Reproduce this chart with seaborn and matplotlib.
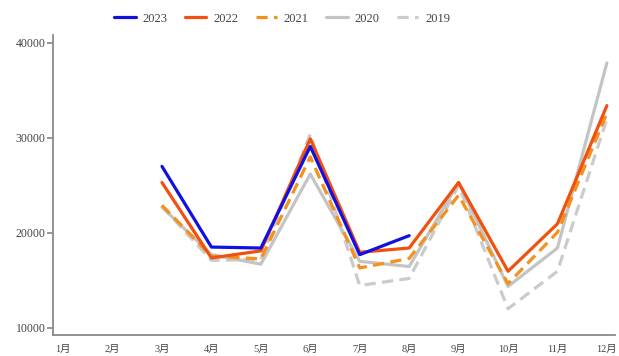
import numpy as np
import pandas as pd
import seaborn as sns
import matplotlib.pyplot as plt

months = ["1月", "2月", "3月", "4月", "5月", "6月", "7月", "8月", "9月", "10月", "11月", "12月"]
nan = np.nan

y2023 = [nan, nan, 27000, 18500, 18400, 29100, 17700, 19700, nan, nan, nan, nan]
y2022 = [nan, nan, 25300, 17350, 18100, 29900, 17950, 18400, 25300, 15950, 20950, 33400]
y2021 = [nan, nan, 22900, 17550, 17250, 28000, 16300, 17300, 23950, 14650, 20050, 32600]
y2020 = [nan, nan, 22700, 17700, 16700, 26200, 17000, 16450, 25300, 14350, 18400, 37900]
y2019 = [nan, nan, 22800, 17100, 17200, 30400, 14450, 15200, 25000, 12000, 15950, 32000]

series = {"2023": y2023, "2022": y2022, "2021": y2021, "2020": y2020, "2019": y2019}
colors = {"2023": "#1010e0", "2022": "#f2500f", "2021": "#f5901c", "2020": "#c4c4c4", "2019": "#cbcbcb"}
dashed = {"2023": False, "2022": False, "2021": True, "2020": False, "2019": True}

sns.set_theme(style="white")
plt.rcParams["font.family"] = ["Liberation Serif", "Noto Sans CJK SC"]

fig = plt.figure(figsize=(6.19, 3.56), dpi=100)
ax = fig.add_axes([0.086, 0.058, 0.908, 0.844])

x = np.arange(1, 13)
# draw back-to-front so 2023 ends up on top
for year in ["2019", "2020", "2021", "2022", "2023"]:
    df = pd.DataFrame({"month": x, "value": series[year]})
    sns.lineplot(
        data=df, x="month", y="value", ax=ax,
        color=colors[year], linewidth=2.3, label=year,
        linestyle=(0, (3.5, 2)) if dashed[year] else "-",
    )

ax.set_xlim(0.8, 12.17)
ax.set_ylim(9200, 40850)
ax.set_xticks(x)
ax.set_xticklabels(months)
ax.set_yticks([10000, 20000, 30000, 40000])
ax.set_xlabel("")
ax.set_ylabel("")

for side in ["top", "right"]:
    ax.spines[side].set_visible(False)
for side in ["left", "bottom"]:
    ax.spines[side].set_color("#8a8a8a")
    ax.spines[side].set_linewidth(1.3)
ax.tick_params(axis="y", left=True, length=4, color="#8a8a8a", labelsize=8.5, labelcolor="#444444", pad=1.5)
ax.tick_params(axis="x", bottom=False, labelsize=7.5, labelcolor="#444444", pad=1)

handles, labels = ax.get_legend_handles_labels()
ax.get_legend().remove()
order = ["2023", "2022", "2021", "2020", "2019"]
hmap = dict(zip(labels, handles))
fig.legend(
    [hmap[k] for k in order], order,
    loc="center", bbox_to_anchor=(0.456, 0.947), ncol=5, frameon=False,
    fontsize=9, handlelength=1.7, handletextpad=0.55, columnspacing=1.4,
    labelcolor="#444444",
)

fig.savefig("out.png", dpi=100)
